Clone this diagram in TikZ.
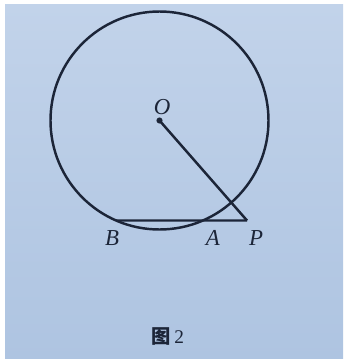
\documentclass[tikz,border=0pt]{standalone}
\usepackage{fontspec}
\setmainfont{Liberation Serif}
\newfontfamily\cjk{Noto Sans CJK SC}
\usetikzlibrary{calc,intersections,positioning}
\definecolor{PaperTop}{HTML}{C2D3EA}
\definecolor{PaperBot}{HTML}{AEC4E1}
\definecolor{InkNavy}{HTML}{1C2538}
\tikzset{
  geo/.style={draw=InkNavy,line width=1.4pt},
  ptdot/.style={circle,fill=InkNavy,inner sep=0pt,minimum size=3.5pt},
  lbl/.style={text=InkNavy,inner sep=0pt,font=\fontsize{13}{13}\selectfont\itshape},
  capt/.style={text=InkNavy,inner sep=0pt,font=\fontsize{11}{11}\selectfont}
}
\begin{document}
\begin{tikzpicture}[x=0.02cm,y=-0.02cm]
  \useasboundingbox (0,0) rectangle (343,359);
  \shade[top color=PaperTop,bottom color=PaperBot] (5,4) rectangle (343,359);

  % circle and the two fixed points
  \coordinate (O) at (159.5,120.5);
  \coordinate (P) at (247,220.5);
  \draw[geo,name path=circ] (O) circle[radius=109];
  \path[name path=chord] (60,220.5) -- (P);
  \path[name intersections={of=chord and circ,by={B,A},sort by=chord}];

  \draw[geo] (O) -- (P);
  \draw[geo] (B) -- (P);
  \node[ptdot] (dotO) at (O) {};

  % letters
  \node[lbl] (labO) at ($(O)+(2.5,-13.5)$) {O};
  \node[lbl] (labB) at ($(B)+(-4,17.5)$) {B};
  \node[lbl] (labA) at ($(A)+(10,17.5)$) {A};
  \node[lbl] (labP) at ($(P)+(9,17.5)$) {P};

  \node[capt] (cap) at (168,336) {{\cjk\bfseries 图}\,2};
\end{tikzpicture}
\end{document}
